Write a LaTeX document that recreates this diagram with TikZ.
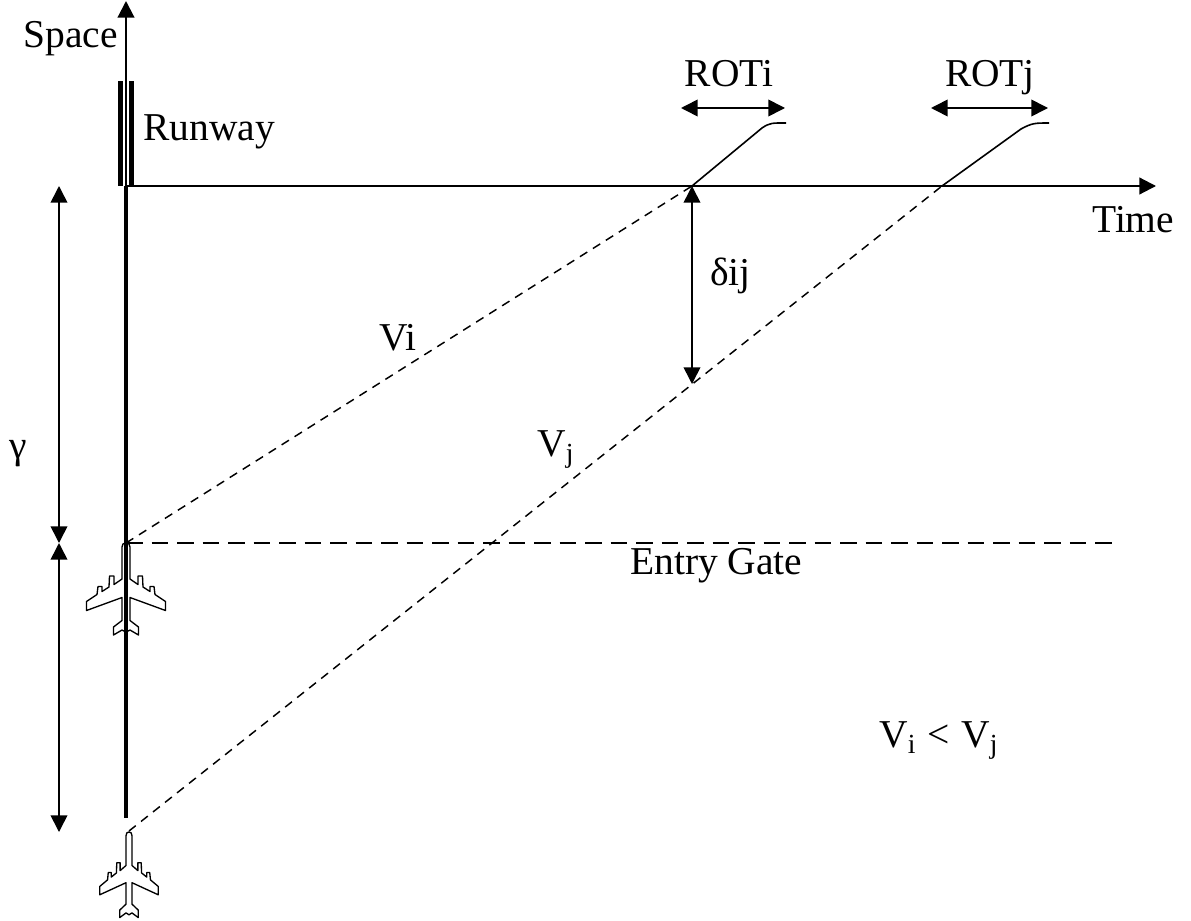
\documentclass[tikz,border=0pt]{standalone}
\usepackage{fontspec}
\setmainfont{Liberation Serif}
\usetikzlibrary{arrows.meta}

\tikzset{
  axisline/.style={line width=1.6pt, -{Triangle[length=12.5pt,width=12.5pt]}},
  runwaybar/.style={fill=black, draw=none},
  centerline/.style={line width=2.4pt},
  twoway/.style={line width=1.2pt, {Triangle[length=12.5pt,width=12.5pt]}-{Triangle[length=12.5pt,width=12.5pt]}},
  track/.style={line width=1.1pt, dash pattern=on 6.5pt off 5pt},
  gateline/.style={line width=1.1pt, dash pattern=on 12.5pt off 6.63pt},
  rollout/.style={line width=1.2pt},
  lbl/.style={font=\fontsize{29.6}{32}\selectfont, inner sep=0pt},
  plane/.pic={
    \draw[line width=1pt, line join=round, fill=white]
      (0,0) .. controls (-2.5,0) and (-4,1) .. (-4,4) -- (-4,36) -- (-12,41.5) -- (-12,33) -- (-16.5,33) -- (-17,44)
      -- (-24,48.5) -- (-24,43.5) -- (-28,43.5) -- (-29,51.5) -- (-39.5,58.5) -- (-39.5,67.5) -- (-4,54.5)
      -- (-4,77.5) -- (-12.5,84) -- (-12.5,92) -- (-4,87) -- (0,89) -- (4,87) -- (12.5,92) -- (12.5,84) -- (4,77.5)
      -- (4,54.5) -- (39.5,67.5) -- (39.5,58.5) -- (29,51.5) -- (28,43.5) -- (24,43.5) -- (24,48.5) -- (17,44)
      -- (16.5,33) -- (12,33) -- (12,41.5) -- (4,36) -- (4,4) .. controls (4,1) and (2.5,0) .. (0,0) -- cycle;
  }
}

\begin{document}
\begin{tikzpicture}[x=0.75pt, y=-0.75pt]
  \useasboundingbox (0,0) rectangle (1191,920);

  % Aviones
  \pic at (126,543) {plane};
  \pic[xscale=0.74, yscale=0.93] at (129,832) {plane};

  % Puntos de referencia
  \coordinate (origin) at (126,186);
  \coordinate (spacetip) at (126,1);
  \coordinate (timetip) at (1156,186);
  \coordinate (gate) at (126,543);
  \coordinate (gateend) at (1112,543);
  \coordinate (centerend) at (126,818);
  \coordinate (start) at (129,831);
  \coordinate (touchi) at (692,186);
  \coordinate (touchj) at (942,186);
  \coordinate (sepj) at (692,384);
  \coordinate (gammatop) at (59,186);
  \coordinate (gammamid) at (59,543);
  \coordinate (gammaend) at (59,832);

  % Pista
  \fill[runwaybar] (118,81) rectangle (123,186);
  \fill[runwaybar] (129,81) rectangle (133.5,186);

  % Ejes
  \draw[axisline] (origin) -- (spacetip);
  \draw[axisline] (origin) -- (timetip);
  \draw[centerline] (origin) -- (centerend);

  % Trayectorias
  \draw[track] (gate) -- (touchi);
  \draw[track] (start) -- (touchj);
  \draw[gateline] (gate) -- (gateend);
  \draw[rollout] (touchi) -- (762,128) .. controls (770,122.5) and (773,123) .. (786,123);
  \draw[rollout] (touchj) -- (1021,129) .. controls (1032,123) and (1035,123) .. (1049,123);

  % Flechas
  \draw[twoway] (681,108) -- (785,108);
  \draw[twoway] (931,108) -- (1048,108);
  \draw[twoway] (touchi) -- (sepj);
  \draw[twoway] (gammatop) -- (gammamid);
  \draw[twoway] (gammamid) -- (gammaend);

  % Etiquetas
  \node[lbl, anchor=base east] (space) at (118,48) {Space};
  \node[lbl, anchor=base west] (runway) at (143,141) {Runway};
  \node[lbl, anchor=base west] (time) at (1092,232) {Time};
  \node[lbl, anchor=base] (roti) at (729,87) {ROTi};
  \node[lbl, anchor=base] (rotj) at (990,87) {ROTj};
  \node[lbl, anchor=base west] (dij) at (710,285) {δij};
  \node[lbl, anchor=base west] (vi) at (379,350) {Vi};
  \node[lbl, anchor=base west] (vj) at (537,456) {V\textsubscript{j}};
  \node[lbl, anchor=base west] (entry) at (630,574) {Entry Gate};
  \node[lbl, anchor=base west] (gam) at (9,458) {γ};
  \node[lbl, anchor=base west] (cmp) at (879,747) {V\textsubscript{i}\hspace{1.5pt} < \hspace{1pt}V\textsubscript{j}};
\end{tikzpicture}
\end{document}
